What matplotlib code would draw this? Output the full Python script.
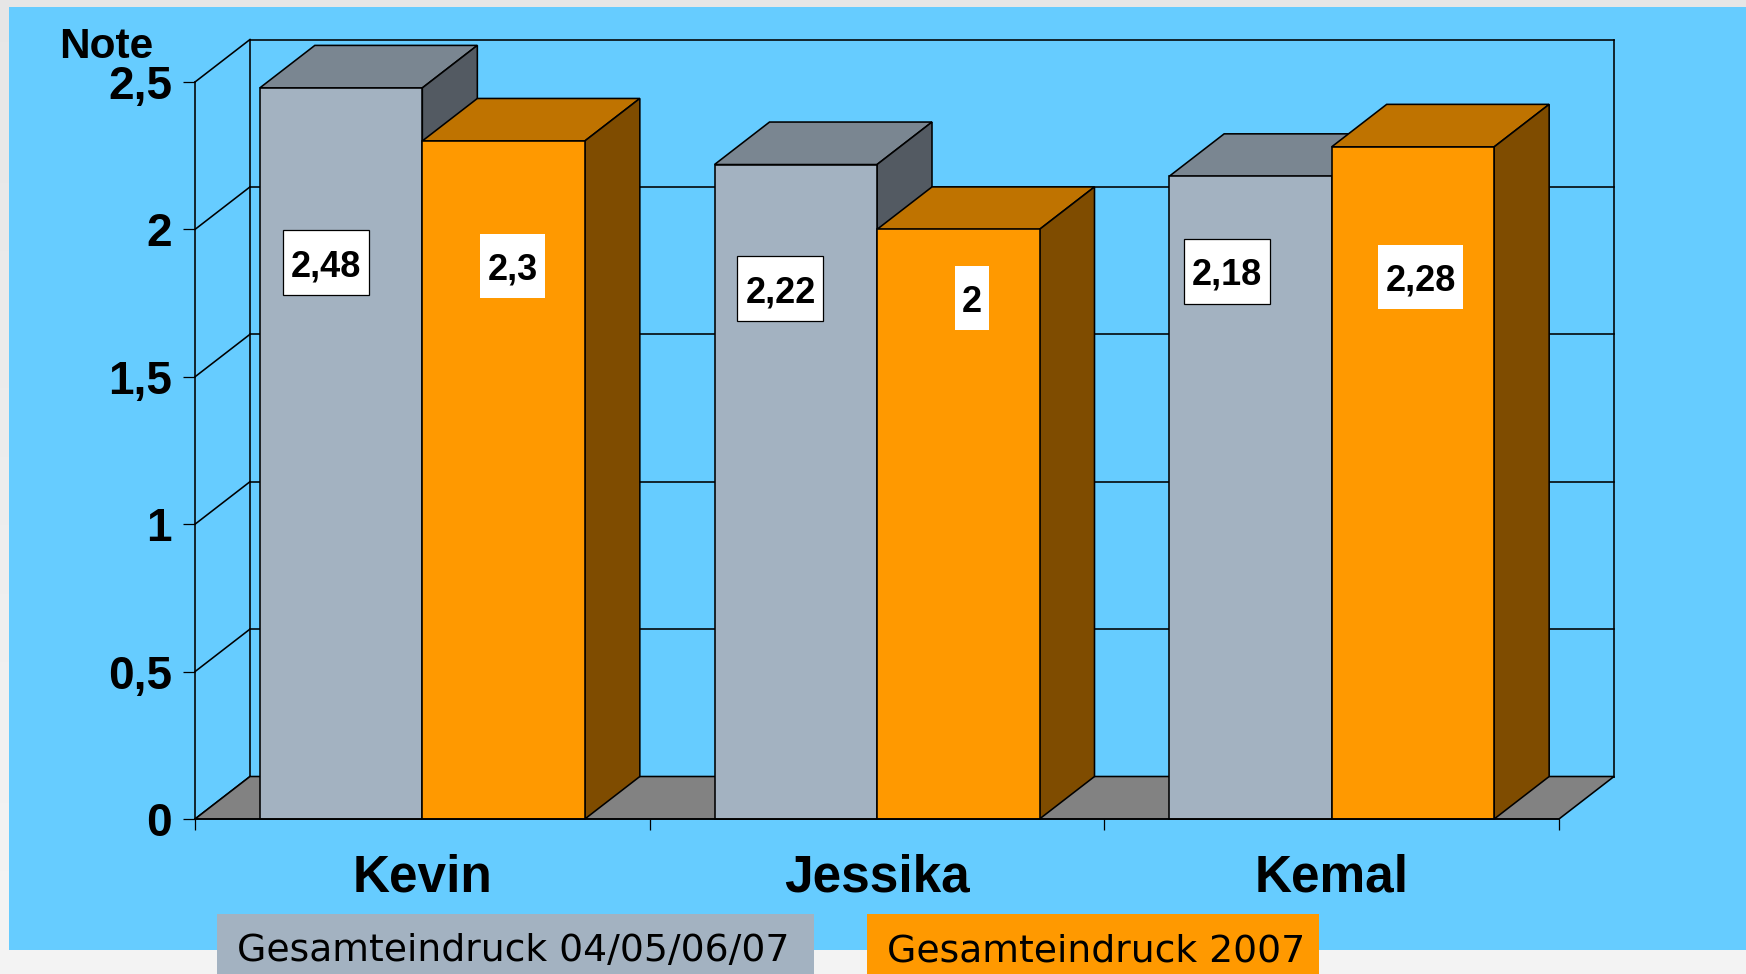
import numpy as np
import matplotlib
matplotlib.use('Agg')
import matplotlib.pyplot as plt
from matplotlib.patches import Polygon, Rectangle

names = ['Kevin', 'Jessika', 'Kemal']
overall = [2.48, 2.22, 2.18]
year_2007 = [2.3, 2.0, 2.28]
y_ticks = [0, 0.5, 1, 1.5, 2, 2.5]
legend_labels = ['Gesamteindruck 04/05/06/07', 'Gesamteindruck 2007']

W, H = 1746, 974
X0, X1, Y0, Y1 = 195, 1559, 819, 82   # plot area in pixels
sx = (X1 - X0) / 3
sy = (Y0 - Y1) / 2.5
depth_x = 55 / sx
depth_y = 42.5 / sy
bar_w = 162.5 / sx
line = 1.15

# label box: centre offset from bar left/top and box size, in pixels
overall_boxes = [(66, 175, 86, 65), (66, 124, 86, 65), (58, 95, 86, 65)]
year_boxes = [(90, 125, 65, 64), (95, 69, 34, 64), (89, 130, 85, 64)]

gray = ['#A3B2C1', '#7A8691', '#535A62']
orange = ['#FF9900', '#BF7300', '#7F4C00']


def draw_bar(ax, x, value, cols, z):
    ax.bar(x, value, bar_w, align='edge', color=cols[0], edgecolor='k', linewidth=line, zorder=z + 0.2, clip_on=False)
    top = [(x, value), (x + bar_w, value), (x + bar_w + depth_x, value + depth_y), (x + depth_x, value + depth_y)]
    side = [(x + bar_w, 0), (x + bar_w + depth_x, depth_y), (x + bar_w + depth_x, value + depth_y), (x + bar_w, value)]
    ax.add_patch(Polygon(top, fc=cols[1], ec='k', lw=line, zorder=z, clip_on=False))
    ax.add_patch(Polygon(side, fc=cols[2], ec='k', lw=line, zorder=z, clip_on=False))


def draw_label(ax, x, value, text, box, boxed):
    cx = x + box[0] / sx
    cy = value - box[1] / sy
    bw = box[2] / sx
    bh = box[3] / sy
    ax.add_patch(Rectangle((cx - bw / 2, cy - bh / 2), bw, bh, fc='white', ec='k' if boxed else 'none',
                           lw=0.9, zorder=20, clip_on=False))
    ax.text(cx, cy, text, ha='center', va='center_baseline', fontsize=26, fontweight='bold', zorder=21)


plt.rcParams['font.family'] = ['Liberation Sans', 'DejaVu Sans']
fig = plt.figure(figsize=(W / 100, H / 100), dpi=100)

bg = fig.add_axes([0, 0, 1, 1], zorder=-1)
bg.imshow(np.linspace(0.9, 0.955, 256).reshape(-1, 1), cmap='gray', vmin=0, vmax=1, aspect='auto',
          extent=(0, W, H, 0))
bg.add_patch(Rectangle((9, 7), W - 9, 943, fc='#66CCFF', ec='none'))
bg.set_xlim(0, W)
bg.set_ylim(H, 0)
bg.axis('off')

ax = fig.add_axes([X0 / W, 1 - Y0 / H, (X1 - X0) / W, (Y0 - Y1) / H])
ax.patch.set_visible(False)
ax.set_xlim(0, 3)
ax.set_ylim(0, 2.5)

# back wall, side wall and floor
for t in y_ticks:
    ax.plot([depth_x, 3 + depth_x], [t + depth_y, t + depth_y], color='k', lw=line, zorder=1, clip_on=False)
    ax.plot([0, depth_x], [t, t + depth_y], color='k', lw=line, zorder=1, clip_on=False)
ax.plot([depth_x, depth_x], [depth_y, 2.5 + depth_y], color='k', lw=line, zorder=1, clip_on=False)
ax.plot([3 + depth_x, 3 + depth_x], [depth_y, 2.5 + depth_y], color='k', lw=line, zorder=1, clip_on=False)
ax.add_patch(Polygon([(0, 0), (3, 0), (3 + depth_x, depth_y), (depth_x, depth_y)], fc='#828282', ec='k', lw=line,
                     zorder=2, clip_on=False))

for i in range(len(names)):
    left = i + 0.5 - bar_w
    right = i + 0.5
    draw_bar(ax, left, overall[i], gray, 5 + i)
    draw_bar(ax, right, year_2007[i], orange, 5.5 + i)
    draw_label(ax, left, overall[i], str(overall[i]).replace('.', ','), overall_boxes[i], True)
    text = ('%g' % year_2007[i]).replace('.', ',')
    draw_label(ax, right, year_2007[i], text, year_boxes[i], False)

for s in ['top', 'right']:
    ax.spines[s].set_visible(False)
for s in ['left', 'bottom']:
    ax.spines[s].set_zorder(15)
    ax.spines[s].set_linewidth(line)
ax.set_axisbelow(False)

ax.set_yticks(y_ticks, [('%g' % t).replace('.', ',') for t in y_ticks], fontsize=33, fontweight='bold')
ax.set_xticks([0, 1, 2, 3], [])
ax.set_xticks([0.5, 1.5, 2.5], names, minor=True, fontsize=37, fontweight='bold')
ax.tick_params(axis='y', length=8.5, width=0.9, pad=8)
ax.tick_params(axis='x', which='major', length=8, width=0.9)
ax.tick_params(axis='x', which='minor', length=0, pad=24.5)

fig.text(153 / W, 1 - 58 / H, 'Note', ha='right', va='baseline', fontsize=30.5, fontweight='bold')

# legend swatches run off the bottom of the picture
bg.add_patch(Rectangle((217, 914), 597, 60, fc=gray[0], ec='none', zorder=5))
bg.add_patch(Rectangle((867, 914), 452, 60, fc=orange[0], ec='none', zorder=5))
bg.text(237, 961, legend_labels[0], fontsize=27.2, family='DejaVu Sans', va='baseline', zorder=6)
bg.text(887, 961, legend_labels[1], fontsize=27.2, family='DejaVu Sans', va='baseline', zorder=6)

fig.savefig('out.png', dpi=100)
